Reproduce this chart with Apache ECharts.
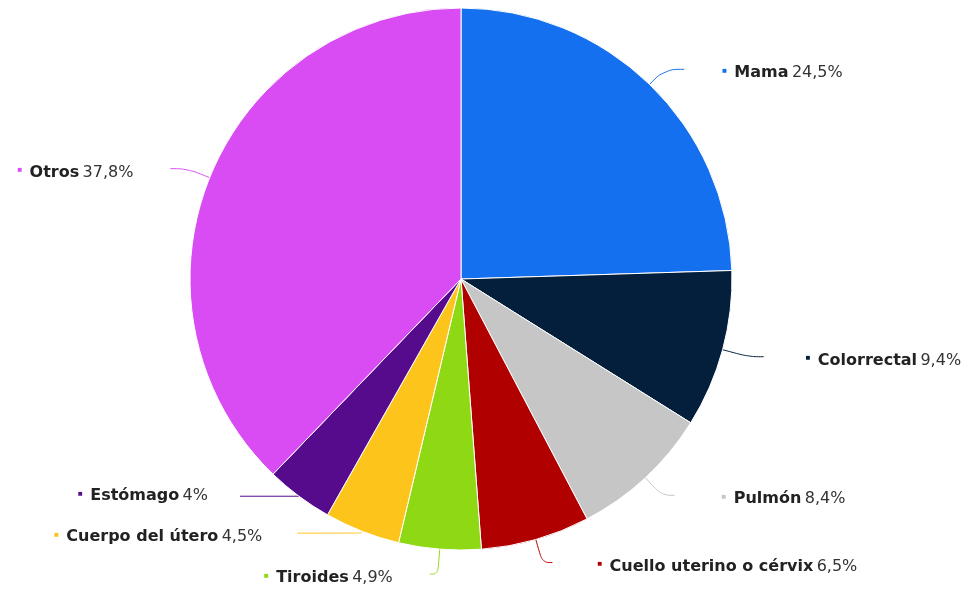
<!DOCTYPE html>
<html>
<head>
<meta charset="utf-8">
<script src="https://cdn.jsdelivr.net/npm/echarts@6/dist/echarts.min.js"></script>
<style>html,body{margin:0;padding:0;background:#fff}#c{width:969px;height:589px}</style>
</head>
<body>
<div id="c"></div>
<script>
const categories = ['Mama', 'Colorrectal', 'Pulmón', 'Cuello uterino o cérvix', 'Tiroides', 'Cuerpo del útero', 'Estómago', 'Otros'];
const values = [24.5, 9.4, 8.4, 6.5, 4.9, 4.5, 4, 37.8];
const colors = ['#1570ef', '#031f3b', '#c6c6c6', '#b10000', '#8fd914', '#fdc51b', '#560b8c', '#d94cf3'];
// label line layout per slice: [length, length2, distanceToLabelLine, label top padding]
const lineLayout = [[21, 20, 38, 8], [27, 15, 42, 8], [24, 13, 47, 8], [24, 10, 45, 8], [25, 8, 37, 8], [2, 64, 35, 8], [0, 59, 32, 0], [24, 17, 37, 8]];

const chart = echarts.init(document.getElementById('c'));
const data = categories.map((n, i) => ({
  name: n, value: values[i],
  itemStyle: { color: colors[i] },
  label: {
    distanceToLabelLine: lineLayout[i][2],
    padding: [lineLayout[i][3], 0, 0, 0],
    rich: { dot: { color: colors[i], fontSize: 8, fontWeight: 'bold', padding: [0, 4, 5, 0] } }
  },
  labelLine: { length: lineLayout[i][0], length2: lineLayout[i][1], lineStyle: { color: colors[i] } }
}));
chart.setOption({
  animation: false,
  series: [{
    type: 'pie',
    center: [461, 279],
    radius: 271,
    startAngle: 90,
    clockwise: true,
    data: data,
    itemStyle: { borderColor: '#fff', borderWidth: 1 },
    label: {
      show: true,
      bleedMargin: 0,
      overflow: 'none',
      formatter: p => '{dot|■} {b|' + p.name + '} {v|' + String(p.value).replace('.', ',') + '%}',
      rich: {
        b: { fontFamily: 'DejaVu Sans', fontSize: 16, fontWeight: 'bold', color: '#222' },
        v: { fontFamily: 'DejaVu Sans', fontSize: 16, color: '#333' }
      }
    },
    labelLine: { show: true, smooth: 0.4, minTurnAngle: 0, lineStyle: { width: 1 } }
  }]
});
</script>
</body>
</html>
